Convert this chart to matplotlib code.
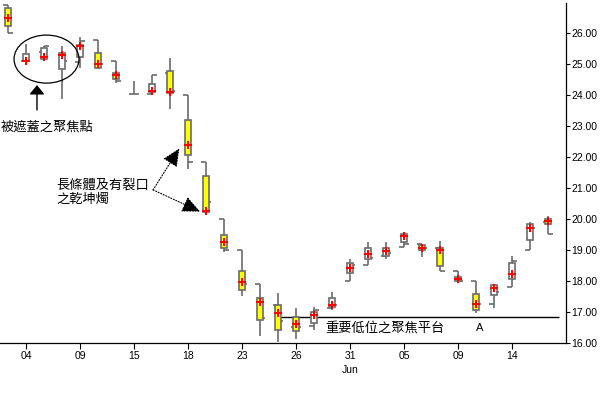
import matplotlib
matplotlib.use("Agg")
import matplotlib.pyplot as plt
import numpy as np
from matplotlib.patches import Ellipse

plt.rcParams['font.family'] = ['Liberation Sans', 'Noto Sans CJK TC', 'DejaVu Sans']

nan = np.nan
# one candle per trading day
high  = [26.91, 25.65, 25.57, 25.58, 25.86, 25.77, 25.10, 24.45, 24.65, 25.19, 23.99,
         21.83, 19.99, 18.99, 17.89, 17.60, 17.12, 17.15, 17.64, 18.70, 19.26, 19.26,
         19.56, 19.18, 19.29, 18.32, 17.99, 17.89, 18.80, 19.89, 20.10]
low   = [25.99, 25.09, 25.17, 23.88, 24.88, 24.88, 24.38, 24.02, 23.99, 23.56, 21.60,
         20.23, 18.95, 17.53, 16.22, 16.04, 16.14, 16.41, 17.05, 18.00, 18.52, 18.70,
         19.09, 18.78, 18.33, 17.99, 16.96, 17.12, 17.80, 18.99, 19.51]
opens = [26.91, 25.10, 25.39, nan, 25.06, 25.77, 25.10, 24.02, 24.02, 24.72, 23.99,
         21.83, 19.99, 18.99, 17.89, 17.24, 16.51, 16.56, 17.12, 18.00, 18.52, 18.81,
         19.09, 19.18, 19.05, 18.32, 17.99, 17.25, 17.80, 18.99, 19.89]
close = [25.99, nan, 25.57, 25.11, 25.75, 25.00, 24.45, 24.02, 24.65, 24.12, 21.83,
         20.54, 18.99, 17.89, 16.80, 16.70, 16.51, 17.07, 17.24, 18.51, 18.73, 18.89,
         19.18, 19.05, 18.33, 17.99, 17.25, 17.64, 18.64, 19.70, 19.51]
box_hi = [26.80, 25.32, 25.51, 25.35, 25.61, 25.35, 24.71, nan, 24.35, 24.78, 23.18,
          21.38, 19.47, 18.31, 17.44, 17.22, 16.85, 16.99, 17.44, 18.57, 19.05, 19.05,
          19.51, 19.16, 19.05, 18.12, 17.57, 17.86, 18.57, 19.83, 19.99]
box_lo = [26.24, 25.09, 25.17, 24.85, 25.24, 24.88, 24.51, nan, 24.10, 24.05, 22.05,
          20.24, 19.05, 17.70, 16.73, 16.41, 16.38, 16.64, 17.17, 18.25, 18.72, 18.81,
          19.25, 18.99, 18.49, 17.99, 17.05, 17.54, 18.05, 19.31, 19.83]
focus = [26.49, 25.10, 25.24, 25.30, 25.59, 25.01, 24.65, nan, 24.13, 24.10, 22.39,
         20.26, 19.26, 17.98, 17.33, 16.98, 16.61, 16.91, 17.24, 18.43, 18.88, 18.98,
         19.46, 19.07, 19.01, 18.06, 17.27, 17.78, 18.24, 19.72, 19.95]
filled = [1, 0, 0, 0, 0, 1, 1, 0, 0, 1, 1, 1, 1, 1, 1, 1, 1, 0, 0, 0, 0, 0, 0, 1, 1, 1, 1, 0, 0, 0, 1]

tick_pos = [1, 4, 7, 10, 13, 16, 19, 22, 25, 28]
tick_lab = ['04', '09', '15', '18', '23', '26', '31\nJun', '05', '09', '14']
support = 16.84

x = np.arange(len(high))
gray = '#6b6b6b'

fig = plt.figure(figsize=(6, 3.99), dpi=100)
ax = fig.add_axes([0, 0.1404, 0.9433, 0.8521])

ax.vlines(x, low, high, color=gray, lw=1.2, zorder=2)
tl = 0.28
ax.hlines(opens, x - tl, x, color=gray, lw=1.2, zorder=2)
ax.hlines(close, x, x + tl, color=gray, lw=1.2, zorder=2)
bh = np.array(box_hi) - np.array(box_lo)
cols = ['#ffff00' if f else 'white' for f in filled]
ax.bar(x, bh, bottom=box_lo, width=0.36, color=cols, edgecolor=gray, lw=1.2, zorder=3)
ax.plot(x, focus, 'P', color='red', ms=5.5, mew=0, zorder=4)

# support line
ax.hlines(support, 14.92, 30.6, color='black', lw=1, zorder=2)

ax.set_xlim(-0.444, 31.0)
ax.set_ylim(16.0, 26.97)
ax.set_xticks(tick_pos)
ax.set_xticklabels(tick_lab, fontsize=7.5, linespacing=1.5)
ax.set_yticks(np.arange(16, 27))
ax.set_yticklabels(['%.2f' % v for v in np.arange(16, 27)], fontsize=7.5)
ax.yaxis.tick_right()
ax.tick_params(axis='y', length=3, width=0.8, pad=1)
ax.tick_params(axis='x', length=4, width=0.8, pad=2)
for s in ['top', 'left']:
    ax.spines[s].set_visible(False)
for s in ['bottom', 'right']:
    ax.spines[s].set_linewidth(0.9)

# annotations
ax.add_patch(Ellipse((2.14, 25.16), 3.61, 1.55, fill=False, ec='black', lw=0.9, zorder=5))
ax.annotate('', xy=(1.61, 24.32), xytext=(1.61, 23.52),
            arrowprops=dict(arrowstyle='-|>,head_length=0.55,head_width=0.45',
                            color='black', lw=1, shrinkA=0, shrinkB=0))
ax.text(-0.39, 22.97, '被遮蓋之聚焦點', fontsize=9.5, va='center', ha='left')

for tip in [(9.52, 22.28), (10.67, 20.24)]:
    ax.annotate('', xy=tip, xytext=(8.06, 20.94),
                arrowprops=dict(arrowstyle='-|>,head_length=1.1,head_width=0.5',
                                color='black', lw=0.8, ls=(0, (1, 1.5)),
                                shrinkA=0, shrinkB=0))
ax.text(2.67, 20.85, '長條體及有裂口\n之乾坤燭', fontsize=9.5, va='center', ha='left',
        linespacing=1.25)

ax.text(17.61, 16.48, '重要低位之聚焦平台', fontsize=9.5, va='center', ha='left')
ax.text(26.2, 16.48, 'A', fontsize=8, va='center', ha='center')

fig.savefig('out.png', dpi=100)
